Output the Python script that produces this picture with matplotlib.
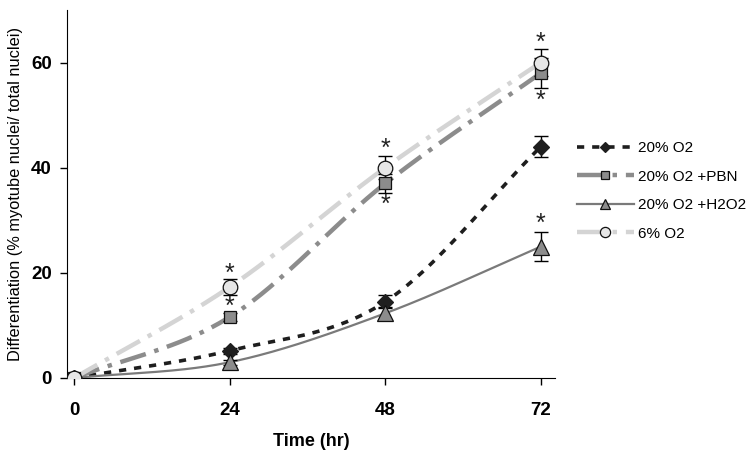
import numpy as np
import matplotlib
matplotlib.use("Agg")
import matplotlib.pyplot as plt

plt.rcParams['font.family'] = ['Liberation Sans', 'DejaVu Sans']

time = [0, 24, 48, 72]
o2_20 = [0, 5.2, 14.5, 44.0]
o2_20_err = [0, 0.6, 1.2, 2.0]
pbn = [0, 11.6, 37.0, 58.0]
pbn_err = [0, 0.8, 1.8, 2.8]
h2o2 = [0, 3.0, 12.3, 25.0]
h2o2_err = [0, 0.5, 1.2, 2.7]
o2_6 = [0, 17.3, 40.0, 60.0]
o2_6_err = [0, 1.5, 2.2, 2.5]
labels = ["20% O2", "20% O2 +PBN", "20% O2 +H2O2", "6% O2"]

# significance markers: (x, y)
stars_x = [24, 24, 48, 48, 72, 72, 72]
stars_y = [19.8, 13.6, 43.6, 33.0, 63.8, 52.8, 29.3]


def smooth(x, y, n=60):
    """Catmull-Rom style smoothing for drawing only (like Excel smoothed lines)."""
    x = np.asarray(x, float)
    y = np.asarray(y, float)
    P = np.column_stack([x, y])
    P = np.vstack([2 * P[0] - P[1], P, 2 * P[-1] - P[-2]])
    out = []
    for i in range(1, len(P) - 2):
        p0, p1, p2, p3 = P[i - 1], P[i], P[i + 1], P[i + 2]
        t = np.linspace(0, 1, n)[:, None]
        c1 = p1 + (p2 - p0) / 6
        c2 = p2 - (p3 - p1) / 6
        seg = ((1 - t) ** 3) * p1 + 3 * ((1 - t) ** 2) * t * c1 + 3 * (1 - t) * t ** 2 * c2 + t ** 3 * p2
        out.append(seg)
    out = np.vstack(out)
    return out[:, 0], out[:, 1]


fig = plt.figure(figsize=(7.53, 4.55), dpi=100)
ax = fig.add_axes([67 / 753, 77 / 455, (555 - 67) / 753, (378 - 10) / 455])

series = [
    dict(y=o2_20, e=o2_20_err, color='#1e1e1e', lw=2.6, dashes=(2, 2.2), marker='D', mfc='#1e1e1e', ms=8, mec='#1e1e1e'),
    dict(y=pbn, e=pbn_err, color='#8c8c8c', lw=3.2, dashes=(6, 2, 1, 2), marker='s', mfc='#8c8c8c', ms=9, mec='#111111'),
    dict(y=h2o2, e=h2o2_err, color='#7a7a7a', lw=1.6, dashes=None, marker='^', mfc='#8c8c8c', ms=11, mec='#111111'),
    dict(y=o2_6, e=o2_6_err, color='#d4d4d4', lw=3.2, dashes=(6, 2, 1, 2), marker='o', mfc='#e6e6e6', ms=10.5, mec='#111111'),
]

handles = []
for s, lab in zip(series, labels):
    sx, sy = smooth(time, s['y'])
    ln, = ax.plot(sx, sy, color=s['color'], lw=s['lw'], zorder=2)
    if s['dashes']:
        ln.set_dashes(s['dashes'])
    ax.errorbar(time, s['y'], yerr=s['e'], fmt='none', ecolor='black', elinewidth=1.0, capsize=5, capthick=1.0, zorder=3)
    ax.plot(time, s['y'], ls='none', marker=s['marker'], ms=s['ms'], mfc=s['mfc'], mec=s['mec'], mew=0.9, zorder=4)
    h, = ax.plot([], [], color=s['color'], lw=s['lw'], marker=s['marker'], ms=s['ms'] * 0.7,
                 mfc=s['mfc'], mec=s['mec'], mew=0.9)
    if s['dashes']:
        h.set_dashes(s['dashes'])
    handles.append(h)

for x, y in zip(stars_x, stars_y):
    ax.text(x, y, '*', ha='center', va='center', fontsize=18, color='#222222')

ax.set_xlim(-1.1, 74.2)
ax.set_ylim(0, 70)
ax.set_xticks(time)
ax.set_yticks([0, 20, 40, 60])
ax.spines['top'].set_visible(False)
ax.spines['right'].set_visible(False)
ax.tick_params(axis='both', direction='out', length=5, width=1, labelsize=13.5)
ax.tick_params(axis='x', pad=12)
ax.tick_params(axis='y', pad=6)
for lab in ax.get_xticklabels() + ax.get_yticklabels():
    lab.set_fontweight('bold')

ax.set_xlabel('Time (hr)', fontsize=13, fontweight='bold', labelpad=10)
ax.set_ylabel('Differentiation (% myotube nuclei/ total nuclei)', fontsize=11.8)
ax.yaxis.set_label_coords(-0.09, 0.5)

fig.legend(handles, labels, loc='upper left', bbox_to_anchor=(577 / 753, 1 - 141 / 455),
           frameon=False, fontsize=11, handlelength=3.7, handletextpad=0.3, labelspacing=0.95,
           borderaxespad=0, borderpad=0)

fig.savefig('out.png', dpi=100)
